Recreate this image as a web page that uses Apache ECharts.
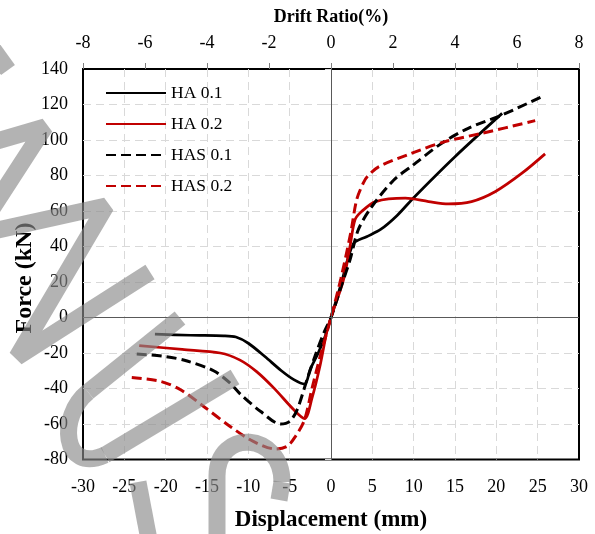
<!DOCTYPE html>
<html>
<head>
<meta charset="utf-8">
<script src="https://cdn.jsdelivr.net/npm/echarts@6/dist/echarts.min.js"></script>
<style>
  html, body { margin: 0; padding: 0; background: #fff; }
  #chart { width: 595px; height: 534px; }
</style>
</head>
<body>
<div id="chart"></div>
<script>
// values
const dispTicks = [-30, -25, -20, -15, -10, -5, 0, 5, 10, 15, 20, 25, 30];
const driftTicks = [-8, -6, -4, -2, 0, 2, 4, 6, 8];

const dispHA01 = [-21.3, -17, -13, -11.5, -10, -8, -6, -4.5, -3.2, -2.5, -1.5, -0.7, 0, 1.2, 2.7, 4.3, 6.0, 8.0, 10.0, 15.0, 20.7];
const forceHA01 = [-9.3, -10, -10.3, -11, -14.5, -22, -30, -35, -37.5, -29, -19.5, -10.5, 0, 18.5, 41.5, 45.5, 49.6, 57.5, 67.5, 90.6, 115];

const dispHA02 = [-23.2, -18, -13.4, -11, -9, -6.9, -4.5, -3.2, -2.3, -1.3, -0.5, 0, 1.5, 2.3, 2.9, 3.7, 5.4, 9.0, 11.8, 14.2, 17, 19.9, 23.1, 25.9];
const forceHA02 = [-15.8, -18, -20, -24, -30.5, -39.8, -52, -57, -45.4, -26.6, -7.9, 0, 21, 40, 55, 59.7, 65.3, 67.2, 65.3, 64, 65.3, 71, 81.3, 92.2];

const dispHAS01 = [-23.5, -20, -17.4, -14.2, -12.2, -11, -8.5, -6.1, -5.0, -4.1, -2.9, -1.8, -0.8, 0, 1.2, 2.3, 3.3, 4.8, 7.6, 9.8, 13.4, 16.6, 20.7, 25.5];
const forceHAS01 = [-20.5, -22, -24.5, -30, -37, -43, -53, -60, -58.5, -52, -35, -20, -8, 0, 17, 32.5, 49.4, 61.6, 77.5, 85.4, 98.2, 106.6, 114.1, 124.4];

const dispHAS02 = [-24.1, -20.6, -18.2, -15.4, -12.2, -9.4, -6.7, -5.3, -4.3, -3.2, -2.3, -1.2, 0, 1.2, 2.4, 3.1, 3.9, 4.4, 5.8, 9.8, 13.8, 18.3, 24.7];
const forceHAS02 = [-33.8, -36, -40.7, -50.1, -61.4, -69.8, -74.1, -72.5, -67, -57.6, -40, -20, 0, 22, 48, 66.3, 75.7, 79.4, 85, 92.6, 99.1, 103.8, 110.9];

const seriesNames = ['HA 0.1', 'HA 0.2', 'HAS 0.1', 'HAS 0.2'];

function pairs(xs, ys) {
  return xs.map((x, i) => [x, ys[i]]);
}

const RED = '#C00000';
const FONT = 'Liberation Serif';

function lineSeries(name, data, color, dashed) {
  return {
    name: name,
    type: 'line',
    data: data,
    smooth: 0.3,
    symbol: 'none',
    showSymbol: false,
    lineStyle: {
      color: color,
      width: dashed ? 3 : 2.75,
      type: dashed ? [10, 5] : 'solid'
    },
    itemStyle: { color: color },
    z: 3
  };
}

const series = [
  lineSeries(seriesNames[0], pairs(dispHA01, forceHA01), '#000', false),
  lineSeries(seriesNames[1], pairs(dispHA02, forceHA02), RED, false),
  lineSeries(seriesNames[2], pairs(dispHAS01, forceHAS01), '#000', true),
  lineSeries(seriesNames[3], pairs(dispHAS02, forceHAS02), RED, true)
];

// zero lines
series[0].markLine = {
  silent: true,
  symbol: ['none', 'none'],
  label: { show: false },
  lineStyle: { color: '#595959', width: 1, type: 'solid' },
  data: [{ xAxis: 0 }, { yAxis: 0 }],
  animation: false
};

// grey watermark strokes
const band = { stroke: '#8a8a8a', lineWidth: 17, fill: null, opacity: 0.65, lineJoin: 'bevel' };
function wmLine(x1, y1, x2, y2) {
  return { type: 'line', shape: { x1: x1, y1: y1, x2: x2, y2: y2 }, style: band, z: 100, silent: true };
}
function wmCurve(x1, y1, c1x, c1y, c2x, c2y, x2, y2) {
  return {
    type: 'bezierCurve',
    shape: { x1: x1, y1: y1, cpx1: c1x, cpy1: c1y, cpx2: c2x, cpy2: c2y, x2: x2, y2: y2 },
    style: band, z: 100, silent: true
  };
}

const gridSplit = { color: '#d9d9d9', width: 1, type: [8, 5] };

const chart = echarts.init(document.getElementById('chart'));
chart.setOption({
  animation: false,
  backgroundColor: '#fff',
  grid: {
    left: 83, right: 16, top: 69, bottom: 74.5,
    outerBoundsMode: 'none',
    containLabel: false,
    show: true, borderColor: '#000', borderWidth: 2
  },
  legend: {
    orient: 'vertical',
    left: 100,
    top: 79,
    itemWidth: 60,
    itemHeight: 17,
    itemGap: 13,
    data: seriesNames,
    itemStyle: { opacity: 0 },
    textStyle: { fontFamily: FONT, fontSize: 17.5, color: '#000' }
  },
  xAxis: [
    {
      type: 'value',
      position: 'bottom',
      min: dispTicks[0],
      max: dispTicks[dispTicks.length - 1],
      interval: 5,
      name: 'Displacement (mm)',
      nameLocation: 'middle',
      nameGap: 49,
      nameTextStyle: { fontFamily: FONT, fontSize: 23, fontWeight: 'bold', color: '#000' },
      axisLine: { show: false },
      axisTick: { show: false },
      axisLabel: { fontFamily: FONT, fontSize: 18, color: '#000', margin: 19 },
      splitLine: { show: true, showMinLine: false, showMaxLine: false, lineStyle: gridSplit }
    },
    {
      type: 'value',
      position: 'top',
      min: driftTicks[0],
      max: driftTicks[driftTicks.length - 1],
      interval: 2,
      name: 'Drift Ratio(%)',
      nameLocation: 'middle',
      nameGap: 43,
      nameTextStyle: { fontFamily: FONT, fontSize: 18, fontWeight: 'bold', color: '#000' },
      axisLine: { show: false },
      axisTick: { show: true, inside: false, length: 6, lineStyle: { color: '#7f7f7f', width: 1 } },
      axisLabel: { fontFamily: FONT, fontSize: 18, color: '#000', margin: 17 },
      splitLine: { show: false }
    }
  ],
  yAxis: {
    type: 'value',
    min: -80,
    max: 140,
    interval: 20,
    axisLine: { show: false },
    axisTick: { show: true, inside: false, length: 6, lineStyle: { color: '#d9d9d9', width: 1 } },
    axisLabel: { fontFamily: FONT, fontSize: 18, color: '#000', margin: 15 },
    splitLine: { show: true, showMinLine: false, showMaxLine: false, lineStyle: gridSplit }
  },
  graphic: [
    {
      type: 'text',
      x: 25,
      y: 278,
      rotation: Math.PI / 2,
      style: {
        text: 'Force (kN)',
        fontFamily: FONT, fontSize: 24, fontWeight: 'bold', fill: '#000',
        align: 'center', verticalAlign: 'middle'
      },
      z: 50
    },
    wmLine(-12, 42, 8, 70),
    {
      type: 'polyline',
      shape: { points: [[-20, 146], [45, 127], [-25, 235], [106, 206], [17, 357], [150, 272]] },
      style: band, z: 100, silent: true
    },
    wmLine(180, 318, 88, 392),
    wmCurve(88, 392, 58, 416, 62, 474, 105, 455),
    wmLine(105, 455, 235, 377),
    wmLine(217, 545, 217, 476),
    wmCurve(217, 476, 217, 428, 282, 432, 282, 482),
    wmLine(282, 482, 279, 500),
    wmLine(138, 482, 150, 545)
  ],
  series: series
});
</script>
</body>
</html>
